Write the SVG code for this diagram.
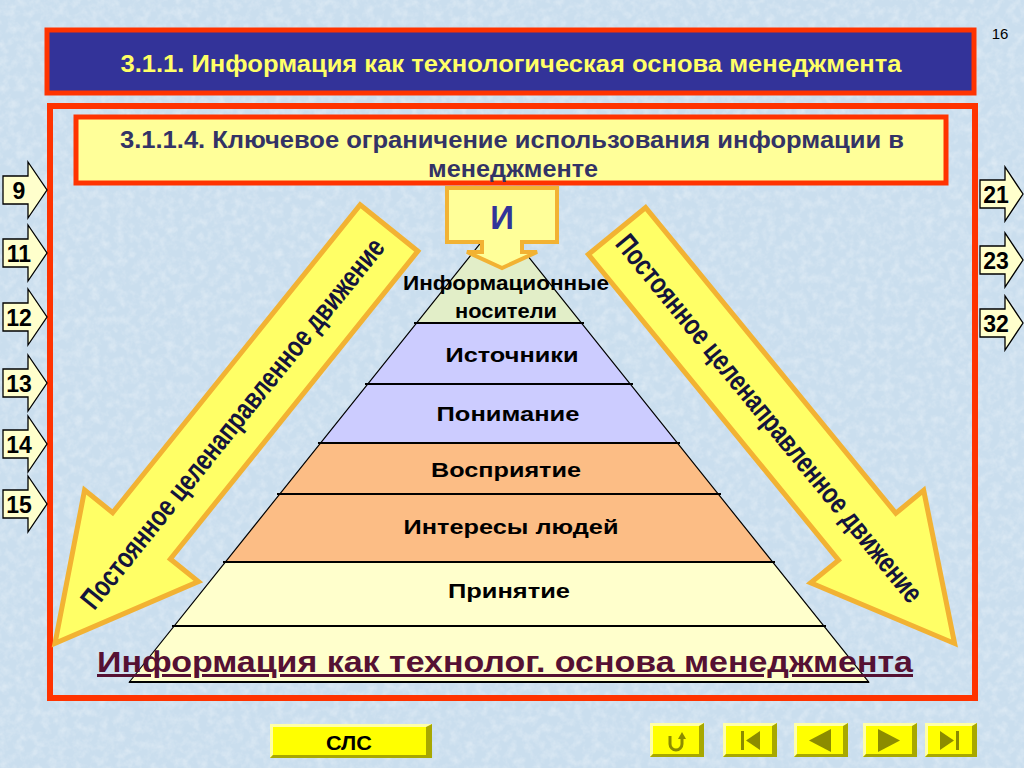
<svg xmlns="http://www.w3.org/2000/svg" width="1024" height="768" viewBox="0 0 1024 768">
<style>
.bold{font-family:"Liberation Sans",Arial,sans-serif;font-weight:bold}
.nav{fill:#ffffcc;stroke:#000;stroke-width:1.3}
.num{font-family:"Liberation Sans",Arial,sans-serif;font-weight:bold;font-size:23px;fill:#000;text-anchor:middle}
.lvl{font-family:"Liberation Sans",Arial,sans-serif;font-weight:bold;font-size:21px;fill:#000;text-anchor:middle}
.sep{stroke:#000;stroke-width:2}
.edge{stroke:#000;stroke-width:1.2;fill:none}
.big{fill:#ffff66;stroke:#f2b233;stroke-width:5;stroke-linejoin:miter}
.bigtxt{font-family:"Liberation Sans",Arial,sans-serif;font-weight:bold;font-size:29px;fill:#14143c;text-anchor:middle}
.btn{fill:#ffff00}
.hi{fill:#ffffa8}
.sh{fill:#a8a800}
.ico{fill:#8c8c00}
</style>
<defs>
<path id="bigArrow" d="M0,-37 L395,-37 L395,-73 L533,0 L395,73 L395,37 L0,37 Z"/>
<filter id="tex" x="0" y="0" width="100%" height="100%">
<feTurbulence type="fractalNoise" baseFrequency="0.12" numOctaves="3" seed="5"/>
<feColorMatrix type="matrix" values="0 0 0 0 1  0 0 0 0 1  0 0 0 0 1  0 0 0 1.4 -0.55"/>
</filter>
</defs>
<rect width="1024" height="768" fill="#cadeee"/>
<rect width="1024" height="768" filter="url(#tex)" opacity="0.45"/>

<g id="slide-number"><text x="1000" y="39" font-family="Liberation Sans,Arial,sans-serif" font-size="15" text-anchor="middle" fill="#000">16</text></g>

<g id="title">
<rect x="47" y="30" width="927" height="63" fill="#333399" stroke="#ff3300" stroke-width="5"/>
<text class="bold" x="511" y="72" font-size="24" fill="#ffff66" text-anchor="middle" textLength="781" lengthAdjust="spacingAndGlyphs">3.1.1. Информация как технологическая основа менеджмента</text>
</g>

<g id="frame"><rect x="50" y="106" width="925" height="592" fill="none" stroke="#ff3300" stroke-width="6"/></g>

<g id="subtitle">
<rect x="76" y="117" width="870" height="66" fill="#ffff99" stroke="#ff3300" stroke-width="5"/>
<text class="bold" x="512" y="148" font-size="24" fill="#333366" text-anchor="middle" textLength="784" lengthAdjust="spacingAndGlyphs">3.1.1.4. Ключевое ограничение использования информации в</text>
<text class="bold" x="513" y="177" font-size="24" fill="#333366" text-anchor="middle" textLength="170" lengthAdjust="spacingAndGlyphs">менеджменте</text>
</g>

<g id="nav-left">
<g id="nav-9"><path class="nav" d="M3,176 H28 V162 L47,190 L28,218 V204 H3 Z"/><text class="num" x="19" y="199">9</text></g>
<g id="nav-11"><path class="nav" d="M3,239 H28 V225 L47,253 L28,281 V267 H3 Z"/><text class="num" x="19" y="262">11</text></g>
<g id="nav-12"><path class="nav" d="M3,303 H28 V289 L47,317 L28,345 V331 H3 Z"/><text class="num" x="19" y="326">12</text></g>
<g id="nav-13"><path class="nav" d="M3,369 H28 V355 L47,383 L28,411 V397 H3 Z"/><text class="num" x="19" y="392">13</text></g>
<g id="nav-14"><path class="nav" d="M3,430 H28 V416 L47,444 L28,472 V458 H3 Z"/><text class="num" x="19" y="453">14</text></g>
<g id="nav-15"><path class="nav" d="M3,490 H28 V476 L47,504 L28,532 V518 H3 Z"/><text class="num" x="19" y="513">15</text></g>
</g>

<g id="nav-right">
<g id="nav-21"><path class="nav" d="M980,180 H1005 V167 L1023,194 L1005,221 V208 H980 Z"/><text class="num" x="996" y="203">21</text></g>
<g id="nav-23"><path class="nav" d="M980,246 H1005 V233 L1023,260 L1005,287 V274 H980 Z"/><text class="num" x="996" y="269">23</text></g>
<g id="nav-32"><path class="nav" d="M980,309 H1005 V296 L1023,323 L1005,350 V337 H980 Z"/><text class="num" x="996" y="332">32</text></g>
</g>

<g id="pyramid">
<polygon points="499,220 581.4,323 416.6,323" fill="#e2eec8"/>
<polygon points="416.6,323 581.4,323 677.4,443 320.6,443" fill="#ccccff"/>
<polygon points="320.6,443 677.4,443 772.6,562 225.4,562" fill="#fcbd85"/>
<polygon points="225.4,562 772.6,562 868.6,682 129.4,682" fill="#ffffcc"/>
<path class="edge" d="M129.4,682 L499,220 L868.6,682 Z"/>
<line class="sep" x1="414" y1="323" x2="584" y2="323"/>
<line class="sep" x1="365" y1="384" x2="633" y2="384"/>
<line class="sep" x1="318" y1="443" x2="680" y2="443"/>
<line class="sep" x1="277" y1="494" x2="721" y2="494"/>
<line class="sep" x1="223" y1="562" x2="775" y2="562"/>
<line class="sep" x1="172" y1="626" x2="826" y2="626"/>
<line class="sep" x1="129" y1="682" x2="869" y2="682"/>
<text class="lvl" x="506" y="290" textLength="206" lengthAdjust="spacingAndGlyphs">Информационные</text>
<text class="lvl" x="506" y="318" textLength="102" lengthAdjust="spacingAndGlyphs">носители</text>
<text class="lvl" x="512" y="362" textLength="133" lengthAdjust="spacingAndGlyphs">Источники</text>
<text class="lvl" x="508" y="421" textLength="143" lengthAdjust="spacingAndGlyphs">Понимание</text>
<text class="lvl" x="506" y="477" textLength="150" lengthAdjust="spacingAndGlyphs">Восприятие</text>
<text class="lvl" x="511" y="534" textLength="215" lengthAdjust="spacingAndGlyphs">Интересы людей</text>
<text class="lvl" x="509" y="598" textLength="122" lengthAdjust="spacingAndGlyphs">Принятие</text>
</g>

<g id="base-title">
<text class="bold" x="505" y="672" font-size="30" fill="#551133" text-anchor="middle" text-decoration="underline" textLength="816" lengthAdjust="spacingAndGlyphs">Информация как технолог. основа менеджмента</text>
</g>

<g id="arrow-left">
<use href="#bigArrow" class="big" transform="translate(389,228) rotate(128.8)"/>
<text class="bigtxt" transform="translate(232,423) rotate(-51.2)" dy="0.36em" textLength="466" lengthAdjust="spacingAndGlyphs">Постоянное целенаправленное движение</text>
</g>

<g id="arrow-right">
<use href="#bigArrow" class="big" transform="translate(617,231) rotate(50.7)"/>
<text class="bigtxt" transform="translate(770,418) rotate(50.7)" dy="0.36em" textLength="466" lengthAdjust="spacingAndGlyphs">Постоянное целенаправленное движение</text>
</g>

<g id="info-callout">
<path d="M447,188 H557 V242 H522 V252 H537 L502,268 L467,252 H482 V242 H447 Z" fill="#ffff99" stroke="#f2b233" stroke-width="4"/>
<text class="bold" x="502" y="229" font-size="33" fill="#333399" text-anchor="middle">И</text>
</g>

<g id="btn-slc">
<rect class="btn" x="270" y="724" width="162" height="34"/>
<polygon class="hi" points="270,724 432,724 429,727 273,727 273,755 270,758"/>
<polygon class="sh" points="432,724 432,758 270,758 273,755 426,755 426,727"/>
<text class="bold" x="349" y="750" font-size="21" fill="#000" text-anchor="middle" textLength="46" lengthAdjust="spacingAndGlyphs">СЛС</text>
</g>

<g id="btn-return">
<rect class="btn" x="650" y="723" width="54" height="34"/>
<polygon class="hi" points="650,723 704,723 701,726 653,726 653,754 650,757"/>
<polygon class="sh" points="704,723 704,757 650,757 653,754 699,754 699,726"/>
<path d="M670,736 V744 A6,6 0 0 0 682,744 V738" fill="none" stroke="#8c8c00" stroke-width="3"/>
<polygon class="ico" points="678,739 682,732 686,739"/>
</g>

<g id="btn-first">
<rect class="btn" x="723" y="723" width="54" height="34"/>
<polygon class="hi" points="723,723 777,723 774,726 726,726 726,754 723,757"/>
<polygon class="sh" points="777,723 777,757 723,757 726,754 772,754 772,726"/>
<rect class="ico" x="741" y="731" width="3" height="19"/>
<polygon class="ico" points="746,740.5 760,731 760,750"/>
</g>

<g id="btn-prev">
<rect class="btn" x="794" y="723" width="54" height="34"/>
<polygon class="hi" points="794,723 848,723 845,726 797,726 797,754 794,757"/>
<polygon class="sh" points="848,723 848,757 794,757 797,754 843,754 843,726"/>
<polygon class="ico" points="809,740.5 831,729 831,752"/>
</g>

<g id="btn-next">
<rect class="btn" x="863" y="723" width="54" height="34"/>
<polygon class="hi" points="863,723 917,723 914,726 866,726 866,754 863,757"/>
<polygon class="sh" points="917,723 917,757 863,757 866,754 912,754 912,726"/>
<polygon class="ico" points="878,729 900,740.5 878,752"/>
</g>

<g id="btn-last">
<rect class="btn" x="925" y="723" width="52" height="34"/>
<polygon class="hi" points="925,723 977,723 974,726 928,726 928,754 925,757"/>
<polygon class="sh" points="977,723 977,757 925,757 928,754 972,754 972,726"/>
<polygon class="ico" points="940,731 954,740.5 940,750"/>
<rect class="ico" x="956" y="731" width="3" height="19"/>
</g>
</svg>
